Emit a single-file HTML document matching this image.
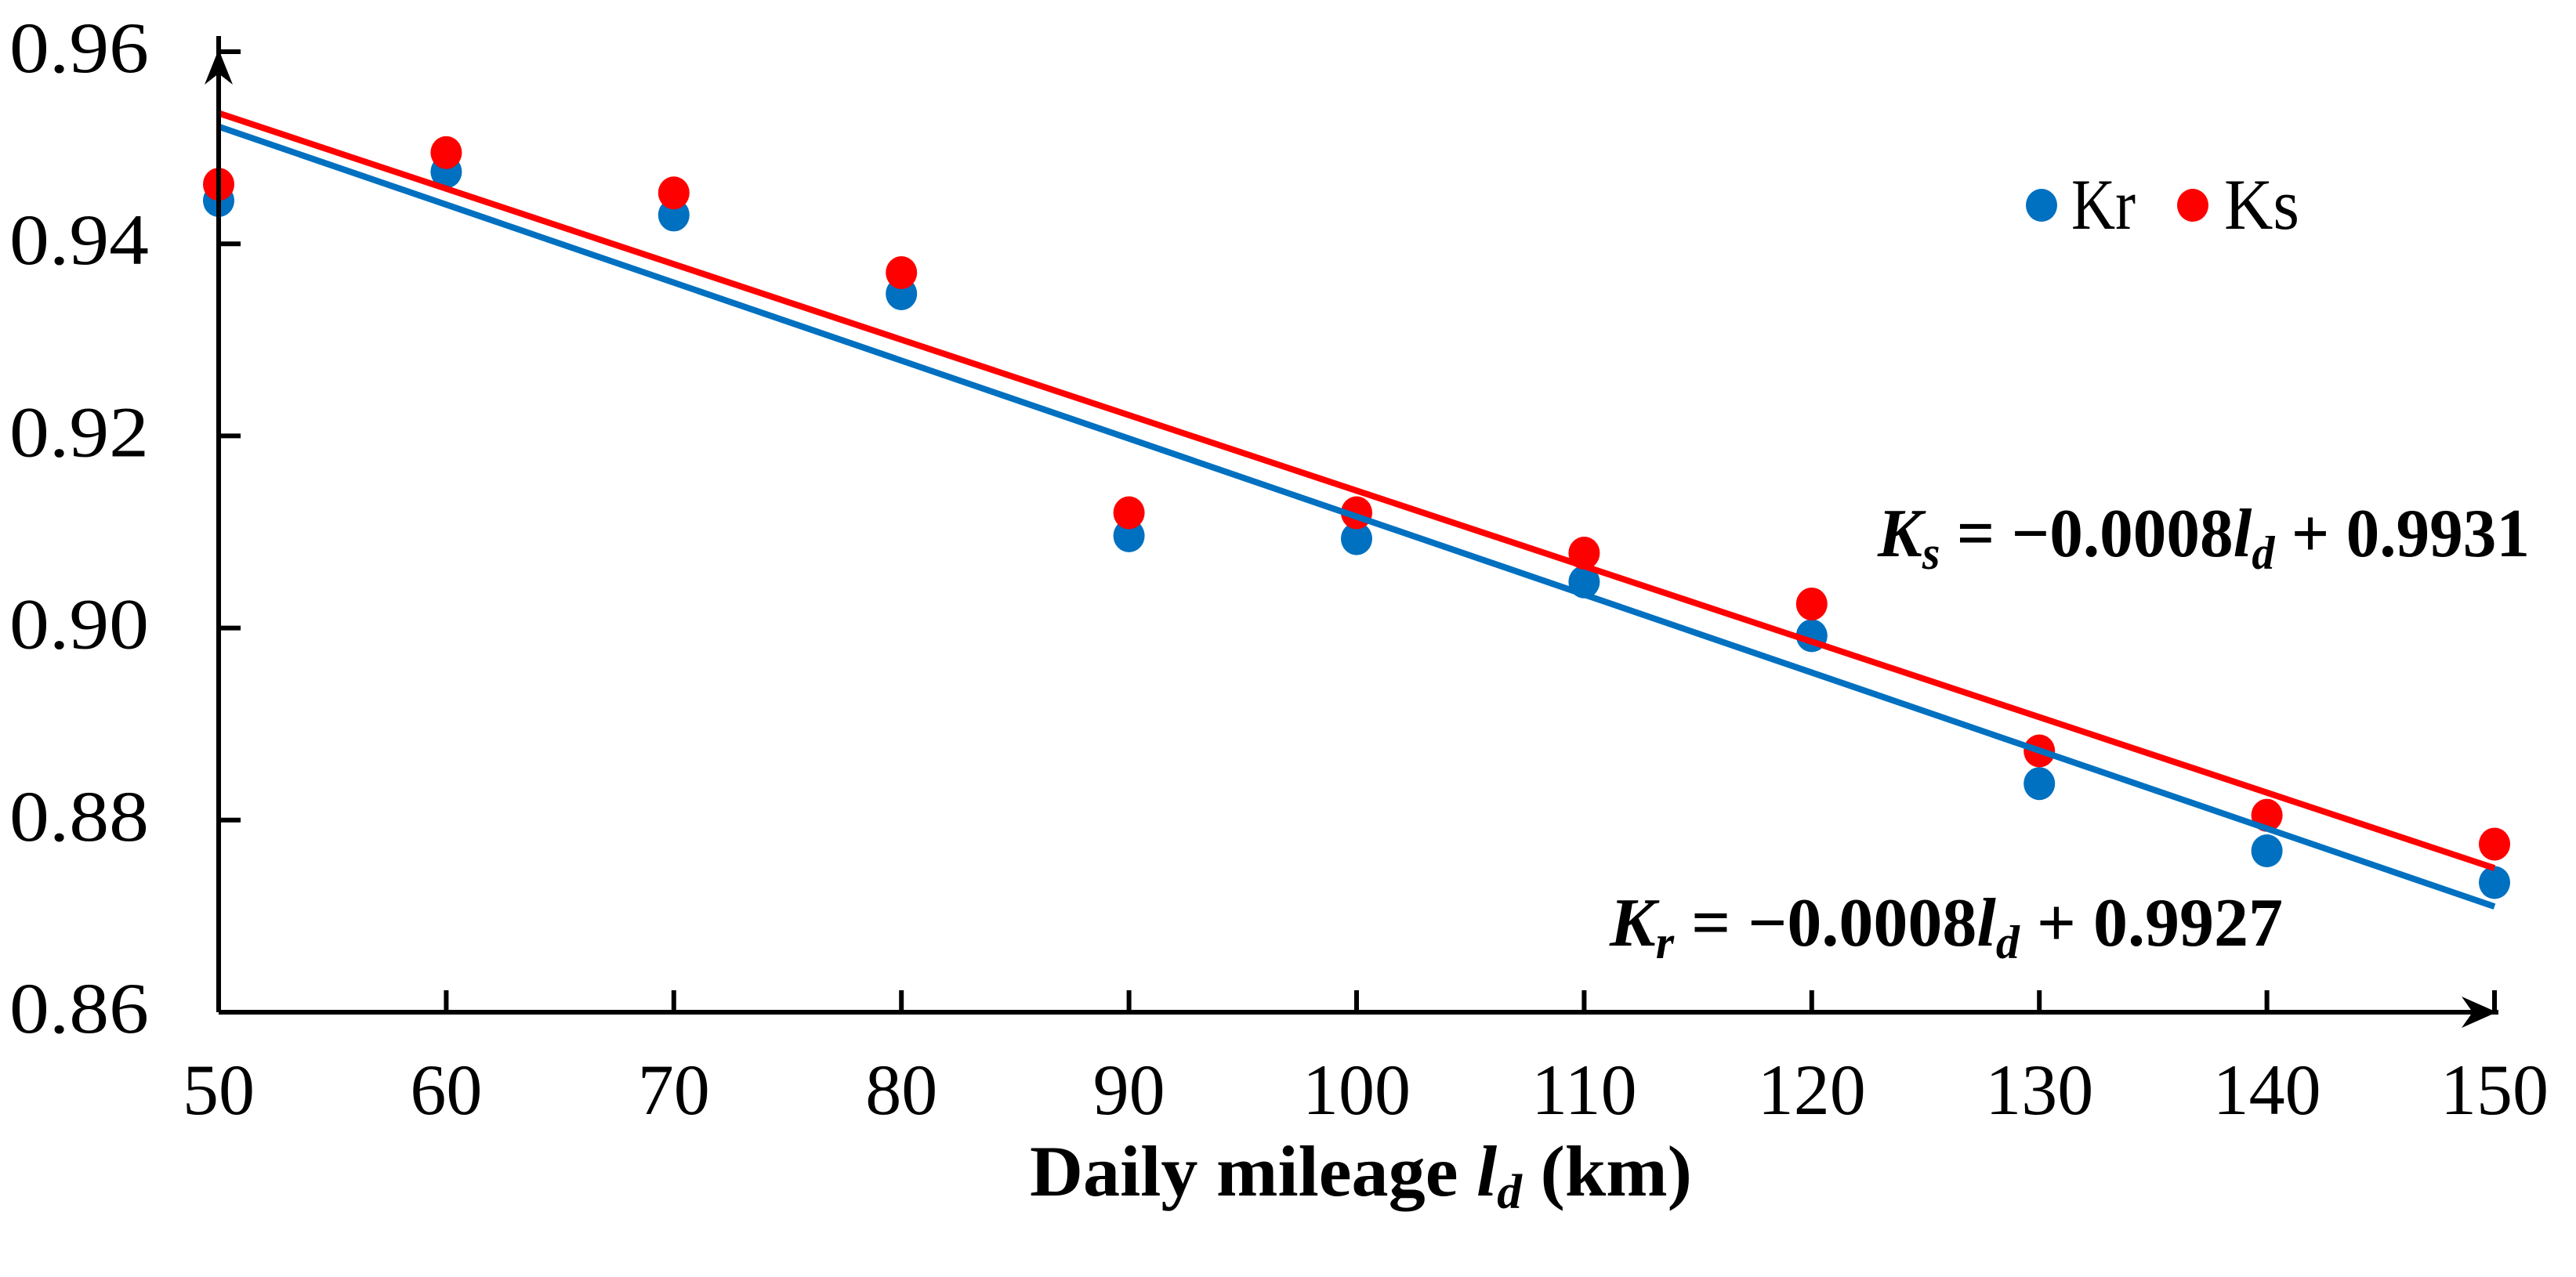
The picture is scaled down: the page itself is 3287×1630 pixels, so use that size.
<!DOCTYPE html>
<html><head><meta charset="utf-8"><style>
html,body{margin:0;padding:0;background:#fff}
svg{display:block;font-family:"Liberation Serif",serif}
</style></head><body>
<svg id="chart" width="3287" height="1630" viewBox="0 0 3287 1630" xmlns="http://www.w3.org/2000/svg">
<g id="marks"></g>
<g id="axes"></g>
<g>
<ellipse cx="2605" cy="262" rx="20" ry="21" fill="#0070C0"/>
<text x="2643" y="292" font-size="92" textLength="82" lengthAdjust="spacingAndGlyphs">Kr</text>
<ellipse cx="2798" cy="262" rx="20" ry="21" fill="#FF0000"/>
<text x="2838" y="292" font-size="92" textLength="96" lengthAdjust="spacingAndGlyphs">Ks</text>
</g>
<text x="2396" y="710" font-size="88" font-weight="bold" textLength="832" lengthAdjust="spacingAndGlyphs"><tspan font-style="italic">K</tspan><tspan font-style="italic" font-size="60" dy="16">s</tspan><tspan dy="-16"> = −0.0008</tspan><tspan font-style="italic">l</tspan><tspan font-style="italic" font-size="60" dy="16">d</tspan><tspan dy="-16"> + 0.9931</tspan></text>
<text x="2054" y="1207" font-size="88" font-weight="bold" textLength="859" lengthAdjust="spacingAndGlyphs"><tspan font-style="italic">K</tspan><tspan font-style="italic" font-size="60" dy="16">r</tspan><tspan dy="-16"> = −0.0008</tspan><tspan font-style="italic">l</tspan><tspan font-style="italic" font-size="60" dy="16">d</tspan><tspan dy="-16"> + 0.9927</tspan></text>
<text x="1314" y="1526" font-size="92" font-weight="bold" textLength="845" lengthAdjust="spacingAndGlyphs">Daily mileage <tspan font-style="italic">l</tspan><tspan font-style="italic" font-size="62" dy="16">d</tspan><tspan dy="-16"> (km)</tspan></text>
</svg>
<script>
const categories = [50,60,70,80,90,100,110,120,130,140,150];
const krValues = [0.9445,0.9475,0.9430,0.9348,0.9096,0.9093,0.9048,0.8992,0.8838,0.8768,0.8735];
const ksValues = [0.9462,0.9495,0.9453,0.9370,0.9120,0.9120,0.9078,0.9025,0.8872,0.8805,0.8775];
const krTrend = [0.9522,0.8710];
const ksTrend = [0.9536,0.8750];
const yTicks = [0.86,0.88,0.90,0.92,0.94,0.96];
const yTickLabels = ["0.86","0.88","0.90","0.92","0.94","0.96"];
const xTickLabels = ["50","60","70","80","90","100","110","120","130","140","150"];

const NS="http://www.w3.org/2000/svg";
const X0=279,X1=3183,Y0=1292,Y1=66;
function xs(v){return X0+(v-50)/100*(X1-X0);}
function ys(v){return Y0-(v-0.86)/0.10*(Y0-Y1);}
function mk(tag,attrs,parent){const e=document.createElementNS(NS,tag);for(const k in attrs)e.setAttribute(k,attrs[k]);parent.appendChild(e);return e;}
const marks=document.getElementById('marks'), axes=document.getElementById('axes');

let a=mk('line',{x1:X0,y1:Y0,x2:X0,y2:Y1-20,stroke:'#000','stroke-width':6},axes);


a=mk('polygon',{points:`${X0},${Y1-3} ${X0-18},${Y1+42} ${X0},${Y1+28} ${X0+18},${Y1+42}`,fill:'#000'},axes);


a=mk('line',{x1:X0,y1:Y0,x2:X1+5,y2:Y0,stroke:'#000','stroke-width':6},axes);


a=mk('polygon',{points:`${X1+3},${Y0} ${X1-42},${Y0-20} ${X1-28},${Y0} ${X1-42},${Y0+20}`,fill:'#000'},axes);


yTicks.forEach((v,i)=>{
  const y=ys(v);
  const t=mk('line',{x1:X0,y1:y,x2:X0+28,y2:y,stroke:'#000','stroke-width':6},axes);
  
  
  const l=mk('text',{x:190,y:y+26,'font-size':92,'text-anchor':'end',textLength:178,lengthAdjust:'spacingAndGlyphs'},axes);
  l.textContent=yTickLabels[i];
  
  
});
categories.forEach((c,i)=>{
  const x=xs(c);
  const t=mk('line',{x1:x,y1:Y0,x2:x,y2:Y0-28,stroke:'#000','stroke-width':6},axes);
  
  
  const l=mk('text',{x:x,y:1422,'font-size':92,'text-anchor':'middle'},axes);
  l.textContent=xTickLabels[i];
  
  
});
categories.forEach((c,i)=>{
  const p=mk('ellipse',{cx:xs(c),cy:ys(krValues[i]),rx:20,ry:21,fill:'#0070C0'},marks);
  
  
});
categories.forEach((c,i)=>{
  const p=mk('ellipse',{cx:xs(c),cy:ys(ksValues[i]),rx:20,ry:21,fill:'#FF0000'},marks);
  
  
});
let tl=mk('line',{x1:xs(50),y1:ys(krTrend[0]),x2:xs(150),y2:ys(krTrend[1]),stroke:'#0070C0','stroke-width':8},marks);


tl=mk('line',{x1:xs(50),y1:ys(ksTrend[0]),x2:xs(150),y2:ys(ksTrend[1]),stroke:'#FF0000','stroke-width':8},marks);


</script>
</body></html>
